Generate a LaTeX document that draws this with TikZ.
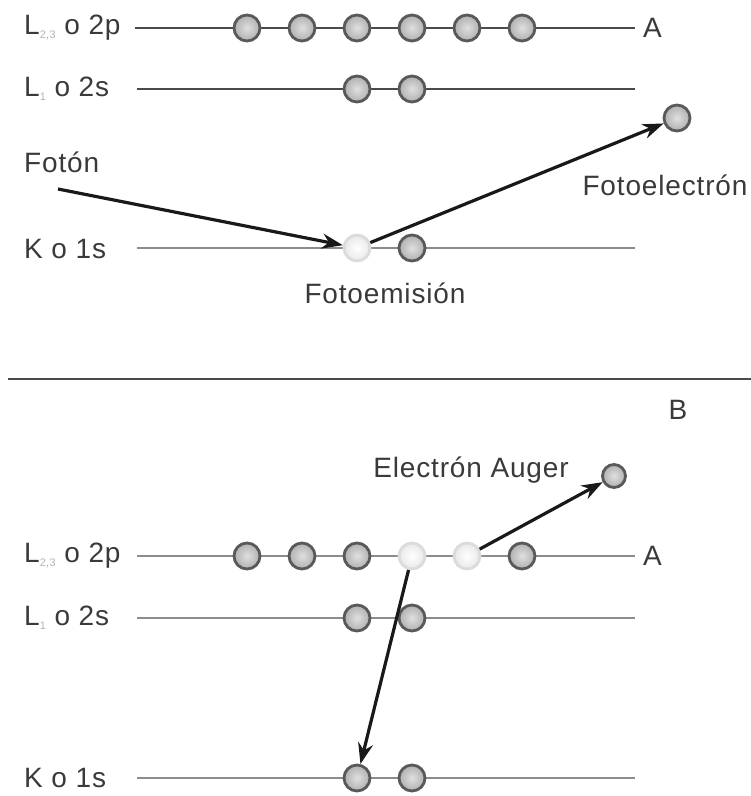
\documentclass[tikz,border=0pt]{standalone}
\usepackage{fontspec}
\setmainfont{Liberation Sans}[LetterSpace=3]
\usetikzlibrary{arrows.meta}
\definecolor{txt}{HTML}{3A3A3A}
\definecolor{lvl}{HTML}{4A4A4A}
\definecolor{lvlb}{HTML}{8C8C8C}
\newcommand\lsub[1]{\raisebox{-4pt}{\fontsize{11}{11}\selectfont\color{gray!60}#1}}
\tikzset{
  lbl/.style={anchor=west, text=txt, font=\fontsize{28}{30}\selectfont, inner sep=0pt},
  ctr/.style={text=txt, font=\fontsize{28}{30}\selectfont, inner sep=0pt},
  elec/.style={circle, minimum size=26pt, inner sep=0pt, draw=gray!70!black, line width=2.8pt, inner color=gray!25, outer color=gray!62},
  pale/.style={circle, minimum size=26pt, inner sep=0pt, draw=gray!28, line width=2.8pt, inner color=white, outer color=gray!18},
  level/.style={draw=lvl, line width=2pt},
  levelb/.style={draw=lvlb, line width=2pt},
  arr/.style={-{Stealth[length=21pt,width=15pt]}, line width=3.2pt, black!90}
}
\begin{document}
\begin{tikzpicture}[x=1pt,y=-1pt]
\path[use as bounding box] (0,0) rectangle (751,796);
% ---------- A: photoemission ----------
\node[lbl] (ta) at (24,28) {L\lsub{2,3} o 2p};
\node[lbl] (tb) at (24,89) {L\lsub{1} o 2s};
\node[lbl] (tc) at (24,249) {K o 1s};
\node[lbl] (tA) at (643,28) {A};
\coordinate (a1) at (135,28); \coordinate (a2) at (635,28);
\coordinate (b1) at (137,89); \coordinate (b2) at (635,89);
\coordinate (c1) at (137,248); \coordinate (c2) at (635,248);
\draw[level] (a1) -- (a2);
\draw[level] (b1) -- (b2);
\draw[levelb] (c1) -- (c2);
\foreach \x [count=\i] in {247,302,357,412,467,522} \node[elec] (tp\i) at (\x,28) {};
\node[elec] (ts1) at (357,89) {};
\node[elec] (ts2) at (412,89) {};
\node[pale] (tk1) at (357,248) {};
\node[elec] (tk2) at (412,248) {};
\node[elec] (pe) at (677,118) {};
\node[lbl] (foton) at (24,162) {Fotón};
\coordinate (fs) at (58,189);
\node[ctr] (femi) at (385,293) {Fotoemisión};
\node[ctr] (fel) at (665,185) {Fotoelectrón};
\draw[arr] (fs) -- (tk1);
\draw[arr] (tk1) -- (pe);
% ---------- separator ----------
\coordinate (s1) at (8,379); \coordinate (s2) at (751,379);
\draw[level] (s1) -- (s2);
\node[ctr] (B) at (678,410) {B};
% ---------- B: Auger ----------
\node[lbl] (ba) at (24,556) {L\lsub{2,3} o 2p};
\node[lbl] (bb) at (24,618) {L\lsub{1} o 2s};
\node[lbl] (bc) at (24,778) {K o 1s};
\node[lbl] (bA) at (643,556) {A};
\coordinate (d1) at (137,556); \coordinate (d2) at (635,556);
\coordinate (e1) at (137,618); \coordinate (e2) at (635,618);
\coordinate (f1) at (137,778); \coordinate (f2) at (635,778);
\draw[levelb] (d1) -- (d2);
\draw[levelb] (e1) -- (e2);
\draw[levelb] (f1) -- (f2);
\node[elec] (bp1) at (247,556) {};
\node[elec] (bp2) at (302,556) {};
\node[elec] (bp3) at (357,556) {};
\node[pale] (bp4) at (412,556) {};
\node[pale] (bp5) at (467,556) {};
\node[elec] (bp6) at (522,556) {};
\node[elec] (bs1) at (357,618) {};
\node[elec] (bs2) at (412,618) {};
\node[elec] (bk1) at (357,778) {};
\node[elec] (bk2) at (412,778) {};
\node[elec, minimum size=23pt] (au) at (614,476) {};
\node[ctr] (aug) at (471,470) {Electrón Auger};
\draw[arr] (bp5) -- (au);
\draw[arr] (bp4) -- (bk1);
\end{tikzpicture}
\end{document}
